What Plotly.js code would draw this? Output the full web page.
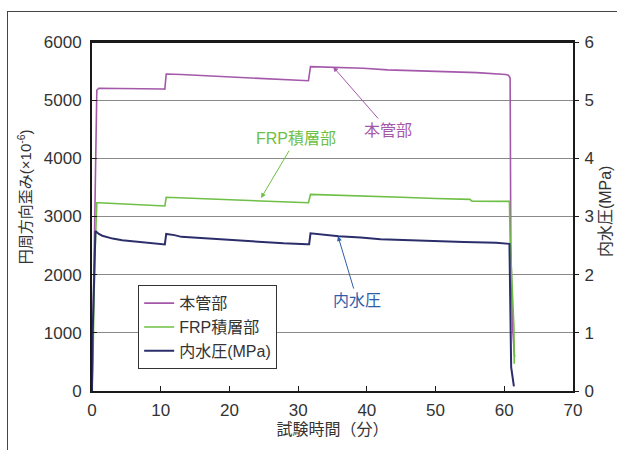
<!DOCTYPE html>
<html>
<head>
<meta charset="utf-8">
<script src="https://cdn.plot.ly/plotly-3.0.1.min.js"></script>
<style>
  html, body { margin: 0; padding: 0; background: #fff; }
  #wrap { position: relative; width: 617px; height: 450px; overflow: hidden; }
  #frame { position: absolute; left: 7px; top: 11px; right: -10px; bottom: -10px;
           border-top: 1px solid #444; border-left: 1px solid #444; pointer-events: none; }
  #chart { position: absolute; left: 0; top: 0; width: 617px; height: 450px; }
</style>
</head>
<body>
<div id="wrap">
  <div id="chart"></div>
  <div id="frame"></div>
</div>
<script>
// ---- data ----
const seriesNames = ["本管部", "FRP積層部", "内水圧(MPa)"];

const mainTime   = [0, 0.15, 0.25, 0.7, 1, 5, 8, 10.3, 10.6, 10.8, 13, 17, 21.6, 25, 28, 31.3, 31.5, 31.8, 35, 39.5, 43, 49.7, 56, 60.2, 60.6, 60.85, 60.95, 61.2, 61.5];
const mainStrain = [0, 1000, 1730, 5170, 5205, 5205, 5200, 5193, 5190, 5450, 5440, 5416, 5394, 5370, 5348, 5336, 5334, 5577, 5570, 5549, 5520, 5490, 5473, 5440, 5430, 5380, 2500, 1100, 585];

const frpTime   = [0, 0.15, 0.4, 0.7, 1, 5, 8, 10.3, 10.6, 10.8, 13, 17, 21, 25, 28, 31.3, 31.5, 31.8, 35, 40, 45, 50, 55, 55.3, 60.5, 60.75, 60.85, 61.4, 61.45];
const frpStrain = [0, 600, 2250, 3236, 3236, 3215, 3200, 3180, 3180, 3330, 3320, 3300, 3285, 3265, 3250, 3236, 3236, 3380, 3370, 3350, 3330, 3310, 3294, 3265, 3265, 3260, 2600, 1100, 470];

const presTime = [0, 0.1, 0.5, 0.7, 1, 1.5, 2, 3, 4.4, 6.4, 8.5, 10.3, 10.6, 10.8, 12, 13, 16.8, 20.6, 24.5, 27.9, 31.3, 31.6, 31.8, 33.2, 35.9, 39.1, 42, 46.4, 49.7, 54.1, 58.8, 60.6, 60.75, 61.0, 61.4];
const pressure = [0, 1.0, 2.75, 2.73, 2.70, 2.67, 2.65, 2.62, 2.59, 2.565, 2.54, 2.52, 2.52, 2.70, 2.68, 2.65, 2.62, 2.59, 2.565, 2.54, 2.525, 2.525, 2.71, 2.69, 2.66, 2.64, 2.61, 2.59, 2.575, 2.56, 2.55, 2.536, 2.53, 0.41, 0.08];

const xTicks  = [0, 10, 20, 30, 40, 50, 60, 70];
const y1Ticks = [0, 1000, 2000, 3000, 4000, 5000, 6000];
const y2Ticks = [0, 1, 2, 3, 4, 5, 6];

const xTitle  = "試験時間（分）";
const y1Title = "円周方向歪み(×10<sup>-6</sup>)";
const y2Title = "内水圧(MPa)";
const calloutMain = "本管部", calloutFrp = "FRP積層部", calloutPres = "内水圧";

// ---- styling ----
const FONT = "Liberation Sans, Arial, Noto Sans CJK JP, sans-serif";
const cMain = "#a458aa", cFrp = "#6dbf45", cPres = "#2b2e6b", cPresNote = "#2f5daa";
const txt = "#333333";

const traces = [
  { x: mainTime, y: mainStrain, name: seriesNames[0], type: "scatter", mode: "lines",
    line: { color: cMain, width: 1.6 }, yaxis: "y" },
  { x: frpTime, y: frpStrain, name: seriesNames[1], type: "scatter", mode: "lines",
    line: { color: cFrp, width: 1.6 }, yaxis: "y" },
  { x: presTime, y: pressure, name: seriesNames[2], type: "scatter", mode: "lines",
    line: { color: cPres, width: 2 }, yaxis: "y2" }
];

const axisCommon = {
  showline: true, linecolor: "#1a1a1a", linewidth: 2,
  ticks: "inside", ticklen: 5, tickwidth: 1, tickcolor: "#1a1a1a",
  tickfont: { family: FONT, size: 17, color: txt },
  zeroline: false, fixedrange: true
};

const layout = {
  width: 617, height: 450,
  margin: { l: 92, r: 44, t: 42, b: 59, pad: 0 },
  paper_bgcolor: "#ffffff", plot_bgcolor: "#ffffff",
  font: { family: FONT, color: txt },
  showlegend: true,
  legend: {
    x: 0.096, y: 0.303, xanchor: "left", yanchor: "top",
    bgcolor: "#ffffff", bordercolor: "#333333", borderwidth: 1,
    font: { family: FONT, size: 16, color: txt },
    tracegroupgap: 0, itemwidth: 30
  },
  xaxis: Object.assign({}, axisCommon, {
    range: [0, 70], tickvals: xTicks, ticktext: xTicks.map(String),
    showgrid: false, mirror: true, ticklabelstandoff: 3,
    title: { text: xTitle, font: { family: FONT, size: 16, color: txt }, standoff: 4 }
  }),
  yaxis: Object.assign({}, axisCommon, {
    range: [0, 6000], tickvals: y1Ticks, ticktext: y1Ticks.map(String),
    showgrid: true, gridcolor: "#8a8a8a", gridwidth: 1, mirror: false,
    ticklabelstandoff: 5
  }),
  yaxis2: Object.assign({}, axisCommon, {
    range: [0, 6], tickvals: y2Ticks, ticktext: y2Ticks.map(String),
    overlaying: "y", side: "right", showgrid: false, ticks: "outside", ticklen: 4,
    ticklabelstandoff: 2
  }),
  shapes: [
    { type: "line", xref: "paper", yref: "paper", x0: 0, x1: 1, y0: 1, y1: 1,
      line: { color: "#1a1a1a", width: 2 } }
  ],
  annotations: [
    // y-axis titles
    { xref: "paper", yref: "paper", x: -0.1415, y: 0.558, text: y1Title, textangle: -90,
      showarrow: false, xanchor: "center", yanchor: "middle",
      font: { family: FONT, size: 15, color: txt } },
    { xref: "paper", yref: "paper", x: 1.069, y: 0.516, text: y2Title, textangle: -90,
      showarrow: false, xanchor: "center", yanchor: "middle",
      font: { family: FONT, size: 16, color: txt } },
    // callouts: text with arrow pointing to the curve
    { x: 35.1, y: 5571, xref: "x", yref: "y", ax: 43.1, ay: 4487, axref: "x", ayref: "y",
      text: calloutMain, font: { family: FONT, size: 16, color: cMain },
      showarrow: true, arrowhead: 2, arrowsize: 1, arrowwidth: 1, arrowcolor: cMain,
      startstandoff: 2 },
    { x: 24.6, y: 3317, xref: "x", yref: "y", ax: 29.7, ay: 4333, axref: "x", ayref: "y",
      text: calloutFrp, font: { family: FONT, size: 16, color: cFrp },
      showarrow: true, arrowhead: 2, arrowsize: 1, arrowwidth: 1, arrowcolor: cFrp,
      startstandoff: 2 },
    { x: 35.8, y: 2.663, xref: "x", yref: "y2", ax: 38.6, ay: 1.556, axref: "x", ayref: "y2",
      text: calloutPres, font: { family: FONT, size: 16, color: cPresNote },
      showarrow: true, arrowhead: 2, arrowsize: 1, arrowwidth: 1, arrowcolor: cPresNote,
      startstandoff: 2 }
  ]
};

Plotly.newPlot("chart", traces, layout, { displayModeBar: false, staticPlot: true });
</script>
</body>
</html>
